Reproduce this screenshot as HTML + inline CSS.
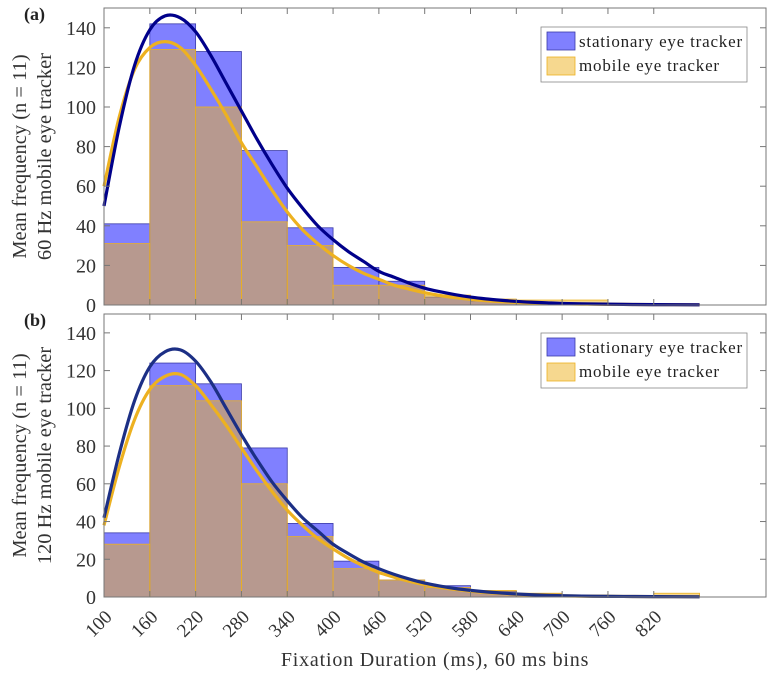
<!DOCTYPE html>
<html><head><meta charset="utf-8">
<style>
body{margin:0;background:#fff;}
svg{display:block;font-family:"Liberation Serif",serif;}
</style></head>
<body>
<svg id="chart" width="772" height="677"></svg>
<script>
// ---- data ----
const binEdges = [100,160,220,280,340,400,460,520,580,640,700,760,820,880];
const xTickLabels = [100,160,220,280,340,400,460,520,580,640,700,760,820];
const yTickLabels = [0,20,40,60,80,100,120,140];
const statBarsA = [41,142,128,78,39,19,12,4,2,1,0.5,0.3,0.2];
const mobBarsA  = [31,129,100,42,30,10,10,5,3,2.5,2.5,0.5,0.3];
const statBarsB = [34,124,113,79,39,19,9,6,3,1.5,0.8,0.4,0.3];
const mobBarsB  = [28,112,104,60,32,15,9,5,3.5,2,1,0.5,2];
const curveX = [100,120,140,160,180,200,220,240,260,280,300,320,340,360,380,400,420,440,460,480,500,520,540,560,580,600,620,640,660,680,700,740,780,820,880];
const statCurveA = [50,90,121,139,146,145,138,126,112,98,84,71,59,49,40,33,27,22,17,14,11,8.5,6.7,5.2,4,3.1,2.4,1.8,1.4,1.1,0.8,0.5,0.3,0.2,0.1];
const mobCurveA  = [60,95,119,130,133,130,121,109,96,82,70,58,47,38,31,25,20,16,13,10,8,6.2,4.8,3.7,2.9,2.2,1.7,1.3,1,0.8,0.6,0.4,0.3,0.2,0.1];
const statCurveB = [42,76,104,122,130,131,125,114,100,86,73,61,51,42,35,28,23,18.5,15,12,9.5,7.4,5.8,4.5,3.5,2.7,2.1,1.6,1.2,0.9,0.7,0.4,0.3,0.2,0.1];
const mobCurveB  = [38,69,94,110,117,118,112,102,91,79,67,56,46,38,31,25.5,20.5,16.5,13,10.5,8.3,6.5,5.1,4,3.1,2.4,1.9,1.4,1.1,0.8,0.6,0.4,0.3,0.2,0.1];

const NS = "http://www.w3.org/2000/svg";
const svg = document.getElementById('chart');
function mk(tag, attrs, parent){ const e=document.createElementNS(NS,tag); for(const k in attrs) e.setAttribute(k,attrs[k]); (parent||svg).appendChild(e); return e; }

const X0=104, X1=766, XMIN=100, XMAX=967;
const xs = v => X0 + (v-XMIN)/(XMAX-XMIN)*(X1-X0);

function smoothPath(px, py){
  let d = `M${px[0]},${py[0]}`;
  for(let i=0;i<px.length-1;i++){
    const p0x=px[Math.max(i-1,0)], p0y=py[Math.max(i-1,0)];
    const p3x=px[Math.min(i+2,px.length-1)], p3y=py[Math.min(i+2,px.length-1)];
    const c1x=px[i]+(px[i+1]-p0x)/6, c1y=py[i]+(py[i+1]-p0y)/6;
    const c2x=px[i+1]-(p3x-px[i])/6, c2y=py[i+1]-(p3y-py[i])/6;
    d += ` C${c1x},${c1y} ${c2x},${c2y} ${px[i+1]},${py[i+1]}`;
  }
  return d;
}

function panel(id, top, bottom, stat, mob, sc, mc, statLineColor, letter, ylab2, showX){
  const g = mk('g',{});
  
  
  const ys = v => bottom - v/150*(bottom-top);
  mk('rect',{x:X0,y:top,width:X1-X0,height:bottom-top,fill:'#fff'},g);
  for(let i=0;i<stat.length;i++){
    const r = mk('rect',{x:xs(binEdges[i]),y:ys(stat[i]),width:xs(binEdges[i+1])-xs(binEdges[i]),height:bottom-ys(stat[i]),fill:'rgb(128,128,255)',stroke:'#3a3aa8','stroke-width':0.8},g);
    
    
  }
  for(let i=0;i<mob.length;i++){
    const r = mk('rect',{x:xs(binEdges[i]),y:ys(mob[i]),width:xs(binEdges[i+1])-xs(binEdges[i]),height:bottom-ys(mob[i]),fill:'rgba(237,177,32,0.5)',stroke:'#EDB120','stroke-width':0.8},g);
    
    
  }
  const px = curveX.map(xs);
  const c1 = mk('path',{d:smoothPath(px, mc.map(ys)),fill:'none',stroke:'#EDB120','stroke-width':3.2},g);
  
  
  const c2 = mk('path',{d:smoothPath(px, sc.map(ys)),fill:'none',stroke:statLineColor,'stroke-width':3.2},g);
  
  
  mk('rect',{x:X0,y:top,width:X1-X0,height:bottom-top,fill:'none',stroke:'#777','stroke-width':1},g);
  xTickLabels.forEach(v=>{
    const x=xs(v);
    mk('line',{x1:x,y1:bottom,x2:x,y2:bottom-6,stroke:'#777'},g);
    mk('line',{x1:x,y1:top,x2:x,y2:top+6,stroke:'#777'},g);
    if(showX){
      const ax=x+9, ay=bottom+21;
      const t = mk('text',{x:ax,y:ay,'font-size':19,fill:'#333','text-anchor':'end',transform:`rotate(-45 ${ax} ${ay})`},g);
      t.textContent = v;
      
      
    }
  });
  yTickLabels.forEach(v=>{
    const y=ys(v);
    mk('line',{x1:X0,y1:y,x2:X0+6,y2:y,stroke:'#777'},g);
    mk('line',{x1:X1,y1:y,x2:X1-6,y2:y,stroke:'#777'},g);
    const t = mk('text',{x:96,y:y+7,'font-size':20,fill:'#333','text-anchor':'end'},g);
    t.textContent = v;
    
    
  });
  const cy=(top+bottom)/2;
  const yl = mk('text',{x:0,y:0,'font-size':20.5,fill:'#333','text-anchor':'middle',transform:`translate(26 ${cy}) rotate(-90)`},g);
  
  
  const s1 = mk('tspan',{x:0,dy:0},yl); s1.textContent='Mean frequency (n = 11)';
  const s2 = mk('tspan',{x:0,dy:25},yl); s2.textContent=ylab2;
  const pl = mk('text',{x:24,y:top+12,'font-size':18,'font-weight':'bold',fill:'#222'},g);
  pl.textContent = letter;
  
  
  const ly = top+19;
  const lg = mk('g',{},g);
  
  
  mk('rect',{x:541,y:ly,width:206,height:55,fill:'#fff',stroke:'#888','stroke-width':0.8},lg);
  mk('rect',{x:547,y:ly+5,width:28,height:18,fill:'rgb(128,128,255)',stroke:'#3a3aa8','stroke-width':0.8},lg);
  mk('rect',{x:547,y:ly+30,width:28,height:18,fill:'rgba(237,177,32,0.5)',stroke:'#EDB120','stroke-width':0.8},lg);
  const t1 = mk('text',{x:579,y:ly+20,'font-size':17,fill:'#222','letter-spacing':'0.8'},lg); t1.textContent='stationary eye tracker';
  
  
  const t2 = mk('text',{x:579,y:ly+44,'font-size':17,fill:'#222','letter-spacing':'0.8'},lg); t2.textContent='mobile eye tracker';
  
  
}

panel('a', 8, 305, statBarsA, mobBarsA, statCurveA, mobCurveA, '#00008a', '(a)', '60 Hz mobile eye tracker', false);
panel('b', 314, 597, statBarsB, mobBarsB, statCurveB, mobCurveB, '#1c2f85', '(b)', '120 Hz mobile eye tracker', true);

const xl = mk('text',{x:435,y:666,'font-size':20,fill:'#333','text-anchor':'middle','letter-spacing':'0.8'});
xl.textContent = 'Fixation Duration (ms), 60 ms bins';


</script>
</body></html>
